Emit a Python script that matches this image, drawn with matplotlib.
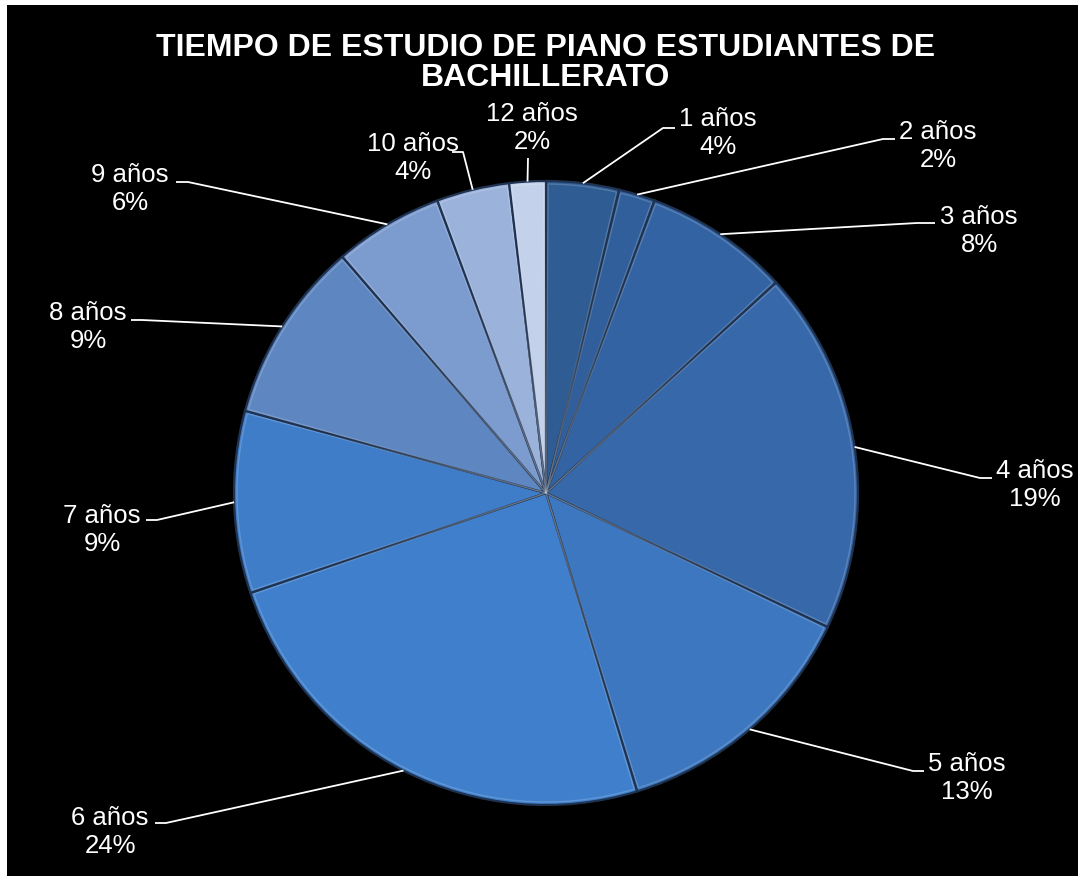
import matplotlib.pyplot as plt
import numpy as np
from matplotlib.patches import Rectangle, Wedge

# datos
anios = ['1 años', '2 años', '3 años', '4 años', '5 años', '6 años',
         '7 años', '8 años', '9 años', '10 años', '12 años']
estudiantes = [2, 1, 4, 10, 7, 13, 5, 5, 3, 2, 1]
porcentajes = ['4%', '2%', '8%', '19%', '13%', '24%', '9%', '9%', '6%', '4%', '2%']

colores = ['#2e5c93', '#305f9b', '#3363a2', '#3768aa', '#3c77bf', '#3f7fcc',
           '#3f7dc9', '#5e86c0', '#7c9bcf', '#9bb2db', '#c4d1ea']

# posicion de las etiquetas (pixeles): centro del texto, codo y punta de la guia
pos_texto = [(718, 133), (938, 146), (979, 231), (1035, 485), (967, 778),
             (110, 832), (102, 530), (88, 327), (130, 189), (413, 158), (532, 128)]
codo = [(663, 128), (883, 139), (917, 223), (980, 478), (913, 771),
        (166, 823), (157, 520), (142, 320), (188, 182), (463, 152), (528, 158)]
punta = [(675, 128), (895, 139), (935, 223), (992, 478), (924, 771),
         (155, 823), (146, 520), (131, 320), (176, 182), (452, 152), (528, 158)]

centro = (546, 493)
radio = 312

fig = plt.figure(figsize=(10.81, 8.81), dpi=100, facecolor='white')
ax = fig.add_axes([0, 0, 1, 1])
ax.add_patch(Rectangle((7, 5), 1071, 871, facecolor='black', edgecolor='none', zorder=0))

wedges, _ = ax.pie(estudiantes, colors=colores, startangle=-90, counterclock=True,
                   center=centro, radius=radio,
                   wedgeprops=dict(edgecolor='#1f3350', linewidth=1.6, zorder=2))

# borde claro interior para simular el bisel
for w in wedges:
    ax.add_patch(Wedge(w.center, w.r - 3, w.theta1 + 0.4, w.theta2 - 0.4,
                       facecolor='none', edgecolor='white',
                       linewidth=1.0, alpha=0.18, zorder=3))

for i, w in enumerate(wedges):
    ang = np.deg2rad((w.theta1 + w.theta2) / 2)
    x0 = centro[0] + radio * np.cos(ang)
    y0 = centro[1] + radio * np.sin(ang)
    ax.plot([x0, codo[i][0], punta[i][0]], [y0, codo[i][1], punta[i][1]],
            color='white', lw=1.3, zorder=4, solid_capstyle='butt')
    ax.text(pos_texto[i][0], pos_texto[i][1], anios[i] + '\n' + porcentajes[i],
            ha='center', va='center', multialignment='center', color='white',
            fontsize=18.5, family='Liberation Sans', linespacing=1.22, zorder=5)

ax.text(546, 63, 'TIEMPO DE ESTUDIO DE PIANO ESTUDIANTES DE\nBACHILLERATO',
        ha='center', va='center', multialignment='center', color='white',
        fontsize=23, fontweight='bold', family='Liberation Sans', linespacing=1.02)

ax.set_xlim(0, 1081)
ax.set_ylim(881, 0)
ax.set_aspect('auto')
ax.axis('off')

plt.savefig('out.png', dpi=100, facecolor='white')
